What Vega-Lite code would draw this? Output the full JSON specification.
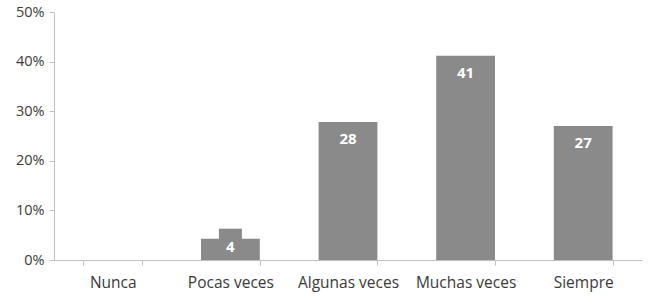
{
  "$schema": "https://vega.github.io/schema/vega-lite/v6.json",
  "autosize": "none",
  "width": 588,
  "height": 248,
  "padding": {"left": 54, "top": 12, "right": 10, "bottom": 38},
  "background": "white",
  "config": {"view": {"stroke": null}, "font": "Open Sans"},
  "data": {"values": [
    {"cat": "Nunca", "pct": 0.0, "label": ""},
    {"cat": "Pocas veces", "pct": 0.043, "label": "4"},
    {"cat": "Algunas veces", "pct": 0.278, "label": "28"},
    {"cat": "Muchas veces", "pct": 0.412, "label": "41"},
    {"cat": "Siempre", "pct": 0.27, "label": "27"}
  ]},
  "encoding": {
    "x": {"field": "cat", "type": "nominal", "sort": null,
      "scale": {"paddingInner": 0.5, "paddingOuter": 0.25},
      "axis": {"title": null, "labelAngle": 0, "tickBand": "extent", "domainColor": "#bfbfbf", "tickColor": "#bfbfbf", "tickSize": 5, "labelColor": "#3a3a3a", "labelFontSize": 15.5, "labelPadding": 10, "labelFont": "Open Sans"}},
    "y": {"field": "pct", "type": "quantitative",
      "scale": {"domain": [0, 0.5]},
      "axis": {"title": null, "format": ".0%", "values": [0, 0.1, 0.2, 0.3, 0.4, 0.5], "grid": false, "domainColor": "#bfbfbf", "tickColor": "#bfbfbf", "tickSize": 5, "labelColor": "#3a3a3a", "labelFontSize": 14.5, "labelPadding": 5, "labelFont": "Open Sans"}}
  },
  "layer": [
    {"mark": {"type": "bar", "color": "#8a8a8a"}},
    {"transform": [{"filter": "datum.pct > 0 && datum.pct < 0.1"}],
     "mark": {"type": "point", "shape": "M-1,-0.87H1V1.04H-1Z", "size": 529, "filled": true, "color": "#8a8a8a", "opacity": 1, "strokeWidth": 0}},
    {"transform": [{"filter": "datum.pct >= 0.1"}],
     "mark": {"type": "text", "color": "white", "fontWeight": "bold", "fontSize": 15, "baseline": "middle", "dy": 17, "font": "Open Sans"},
     "encoding": {"text": {"field": "label"}}},
    {"transform": [{"filter": "datum.pct > 0 && datum.pct < 0.1"}],
     "mark": {"type": "text", "color": "white", "fontWeight": "bold", "fontSize": 15, "baseline": "middle", "dy": 8, "font": "Open Sans"},
     "encoding": {"text": {"field": "label"}}}
  ]
}
